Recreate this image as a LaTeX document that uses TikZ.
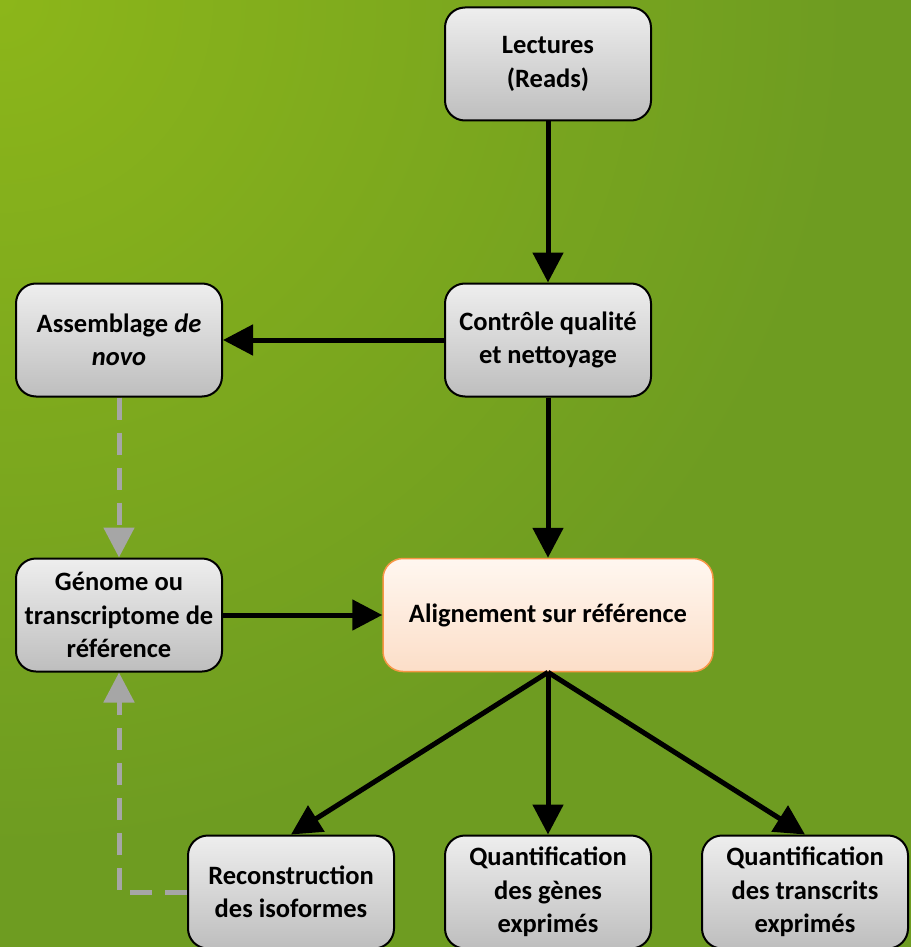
\documentclass[tikz,border=0pt]{standalone}
\usepackage{fontspec}
\setmainfont{Carlito}
\usetikzlibrary{arrows.meta}

\definecolor{bggreen}{RGB}{110,156,33}
\definecolor{bglight}{RGB}{140,182,26}
\definecolor{boxtop}{RGB}{238,238,238}
\definecolor{boxbottom}{RGB}{190,190,190}
\definecolor{aligntop}{RGB}{255,247,240}
\definecolor{alignbottom}{RGB}{252,222,200}
\definecolor{alignborder}{RGB}{247,150,70}
\definecolor{dashgrey}{RGB}{166,166,166}

\begin{document}
\begin{tikzpicture}[x=1pt, y=-1pt,
    stepbox/.style={draw=black, line width=2pt, rounded corners=20pt,
        top color=boxtop, bottom color=boxbottom,
        minimum width=206pt, minimum height=113pt, align=center,
        font=\fontsize{26.5}{33.5}\selectfont\bfseries},
    mainbox/.style={stepbox, draw=alignborder, line width=1.5pt,
        top color=aligntop, bottom color=alignbottom, minimum width=330pt},
    flow/.style={line width=5pt, -{Triangle[length=30pt,width=30pt]}},
    back/.style={flow, draw=dashgrey, dash pattern=on 22pt off 13pt}]

    \useasboundingbox (0,0) rectangle (911,947);

    % green background, lighter towards the top left
    \fill[bggreen] (0,0) rectangle (911,947);
    \begin{scope}
        \clip (0,0) rectangle (911,947);
        \shade[inner color=bglight, outer color=bggreen] (0,0) circle (850);
    \end{scope}

    \node[stepbox] (reads) at (548,64) {Lectures\\(Reads)};
    \node[stepbox] (qc) at (548,340) {Contrôle qualité\\et nettoyage};
    \node[stepbox] (denovo) at (119,340) {Assemblage \textit{de}\\\textit{novo}};
    \node[stepbox] (refgenome) at (119,615) {Génome ou\\transcriptome de\\référence};
    \node[mainbox] (align) at (548,615) {Alignement sur référence};
    \node[stepbox] (isoforms) at (291,892) {Reconstruction\\des isoformes};
    \node[stepbox] (genes) at (548,892) {Quantification\\des gènes\\exprimés};
    \node[stepbox] (transcripts) at (805,892) {Quantification\\des transcrits\\exprimés};

    \draw[flow] (reads) -- (qc);
    \draw[flow] (qc) -- (denovo);
    \draw[flow] (qc) -- (align);
    \draw[flow] (refgenome) -- (align);
    \draw[flow] (align.south) -- (isoforms.north);
    \draw[flow] (align.south) -- (genes.north);
    \draw[flow] (align.south) -- (transcripts.north);

    % optional paths back to the reference
    \draw[back] (denovo) -- (refgenome);
    \draw[back] (isoforms.west) -| (refgenome.south);
\end{tikzpicture}
\end{document}
